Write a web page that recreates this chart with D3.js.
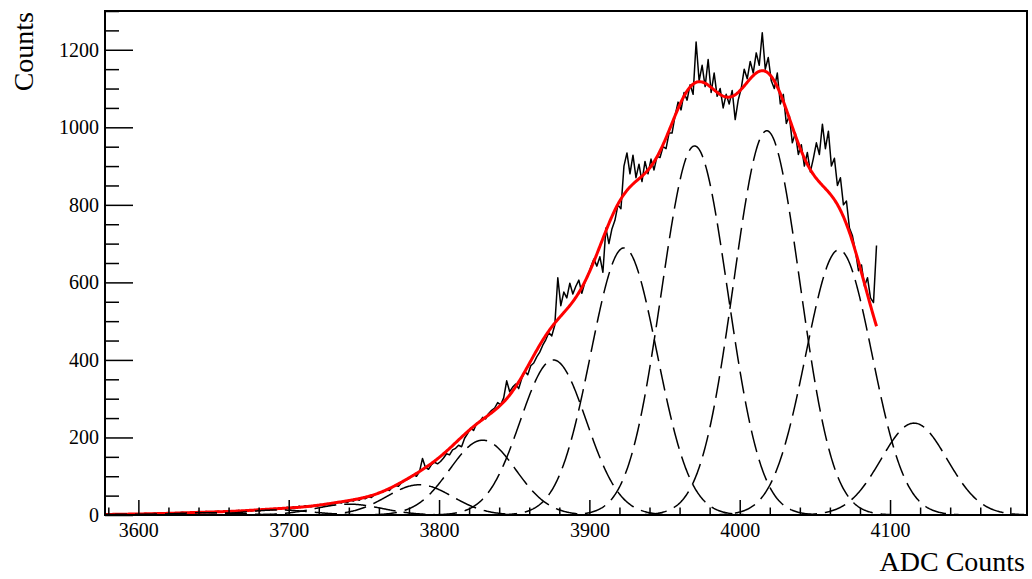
<!DOCTYPE html>
<html><head><meta charset="utf-8">
<script src="https://cdn.jsdelivr.net/npm/d3@7"></script>
<style>body{margin:0;background:#fff}svg{display:block}</style>
</head><body>
<svg id="chart" width="1032" height="579"></svg>
<script>
// ---- data ----
const binStart = 3577;   // centre of first bin (ADC)
const binWidth = 2;
const counts = [
  0,1,0,2,1,2,1,3,2,2,
  3,2,1,3,4,2,3,5,3,4,
  4,3,5,6,4,5,7,5,6,4,
  6,8,5,7,9,6,8,7,10,8,
  9,7,11,9,10,12,9,11,13,10,
  12,14,11,15,13,16,14,17,15,18,
  17,20,16,21,19,23,20,24,22,21,
  25,23,27,24,28,26,30,29,33,31,
  35,32,38,36,41,38,44,42,47,45,
  52,55,58,60,66,63,72,76,74,83,
  88,92,97,104,100,112,146,122,118,130,
  136,132,138,147,158,155,168,172,180,176,
  198,210,224,218,236,240,252,248,262,270,
  276,290,284,302,346,318,330,338,326,352,
  370,362,385,392,408,420,438,452,470,462,
  490,612,540,575,560,598,570,590,606,572,
  600,618,640,660,642,666,626,740,700,738,
  760,800,790,900,934,880,928,870,905,860,
  912,880,918,890,925,922,950,945,985,985,
  1030,1065,1045,1090,1070,1110,1085,1220,1120,1160,
  1105,1175,1090,1140,1080,1100,1050,1085,1060,1095,
  1020,1070,1100,1150,1125,1170,1140,1192,1160,1244,
  1150,1180,1120,1100,1140,1060,1085,1010,1030,960,
  985,930,955,900,935,885,920,960,930,1008,
  945,990,900,920,850,870,800,810,740,720,
  680,630,645,590,612,560,548,695
];
const peakMeans  = [3599, 3646, 3693, 3740, 3787, 3829, 3876, 3923, 3970, 4018, 4066, 4116];
const peakAmps   = [2, 6, 13, 28, 78, 193, 400, 689, 952, 991, 684, 237];
const peakSigmas = [22, 22, 22, 22, 22, 22, 22, 22, 22, 22, 22, 22];
const fitRange   = [3578, 4091];
const axisRange  = [3577.8, 4191.1];
const countRange = [0, 1300];
const xTickValues = [3600, 3700, 3800, 3900, 4000, 4100];
const yTickValues = [0, 200, 400, 600, 800, 1000, 1200];
const xTitle = "ADC Counts";
const yTitle = "Counts";

// ---- layout ----
const L = 105, R = 1027, T = 11, B = 515;
const svg = d3.select("#chart");
const font = "'Liberation Serif','Times New Roman',Times,serif";
const x = d3.scaleLinear().domain(axisRange).range([L, R]);
const y = d3.scaleLinear().domain(countRange).range([B, T]);

svg.append("defs").append("clipPath").attr("id","frame")
  .append("rect").attr("x",L).attr("y",T).attr("width",R-L).attr("height",B-T);

const plot = svg.append("g").attr("clip-path","url(#frame)");

// histogram polyline
const hist = counts.map((c,i)=>[binStart + i*binWidth, c]);
plot.append("path").datum(hist)
  .attr("fill","none").attr("stroke","#000").attr("stroke-width",1.5)
  .attr("stroke-linejoin","round")
  .attr("d", d3.line().x(d=>x(d[0])).y(d=>y(d[1])));

// gaussian helpers
function gauss(k, v){ const d=(v-peakMeans[k])/peakSigmas[k]; return peakAmps[k]*Math.exp(-0.5*d*d); }

// fit (sum)
const fitPts = d3.range(fitRange[0], fitRange[1]+0.01, 0.5).map(v=>[v, d3.sum(peakMeans, (_,k)=>gauss(k,v))]);
plot.append("path").datum(fitPts)
  .attr("fill","none").attr("stroke","#ff0000").attr("stroke-width",3)
  .attr("d", d3.line().x(d=>x(d[0])).y(d=>y(d[1])));

// individual components dashed
peakMeans.forEach((m,k)=>{
  const pts = d3.range(axisRange[0], axisRange[1], 0.5).map(v=>[v, gauss(k,v)]);
  plot.append("path").datum(pts)
    .attr("fill","none").attr("stroke","#000").attr("stroke-width",1.5)
    .attr("stroke-dasharray","22,8")
    .attr("d", d3.line().x(d=>x(d[0])).y(d=>y(d[1])));
});

// axes
const xMinor = d3.range(3580, 4191, 20).filter(v=>!xTickValues.includes(v));
const yMinor = d3.range(0, 1301, 50).filter(v=>!yTickValues.includes(v));

const gx = svg.append("g").attr("transform",`translate(0,${B})`)
  .call(d3.axisBottom(x).tickValues(xTickValues).tickSize(-15).tickFormat(d3.format("d")));
gx.select(".domain").remove();
gx.selectAll("line").attr("stroke","#000").attr("stroke-width",1.5);
gx.selectAll("text").attr("y",22).attr("dy",0).attr("font-family",font).attr("font-size",20).attr("fill","#000");
svg.append("g").attr("transform",`translate(0,${B})`)
  .call(d3.axisBottom(x).tickValues(xMinor).tickSize(-7.5).tickFormat(""))
  .call(g=>g.select(".domain").remove())
  .selectAll("line").attr("stroke","#000").attr("stroke-width",1.5);

const gy = svg.append("g").attr("transform",`translate(${L},0)`)
  .call(d3.axisLeft(y).tickValues(yTickValues).tickSize(-28).tickPadding(6).tickFormat(d3.format("d")));
gy.select(".domain").remove();
gy.selectAll("line").attr("stroke","#000").attr("stroke-width",1.5);
gy.selectAll("text").attr("font-family",font).attr("font-size",20).attr("fill","#000");
svg.append("g").attr("transform",`translate(${L},0)`)
  .call(d3.axisLeft(y).tickValues(yMinor).tickSize(-14).tickFormat(""))
  .call(g=>g.select(".domain").remove())
  .selectAll("line").attr("stroke","#000").attr("stroke-width",1.5);

// frame
svg.append("rect").attr("x",L).attr("y",T).attr("width",R-L).attr("height",B-T)
  .attr("fill","none").attr("stroke","#000").attr("stroke-width",2);

// titles
svg.append("text").attr("x",R-2).attr("y",571).attr("text-anchor","end")
  .attr("font-family",font).attr("font-size",28).attr("fill","#000").text(xTitle);
svg.append("text").attr("transform","translate(33,12) rotate(-90)").attr("text-anchor","end")
  .attr("font-family",font).attr("font-size",28).attr("fill","#000").text(yTitle);
</script>
</body></html>
